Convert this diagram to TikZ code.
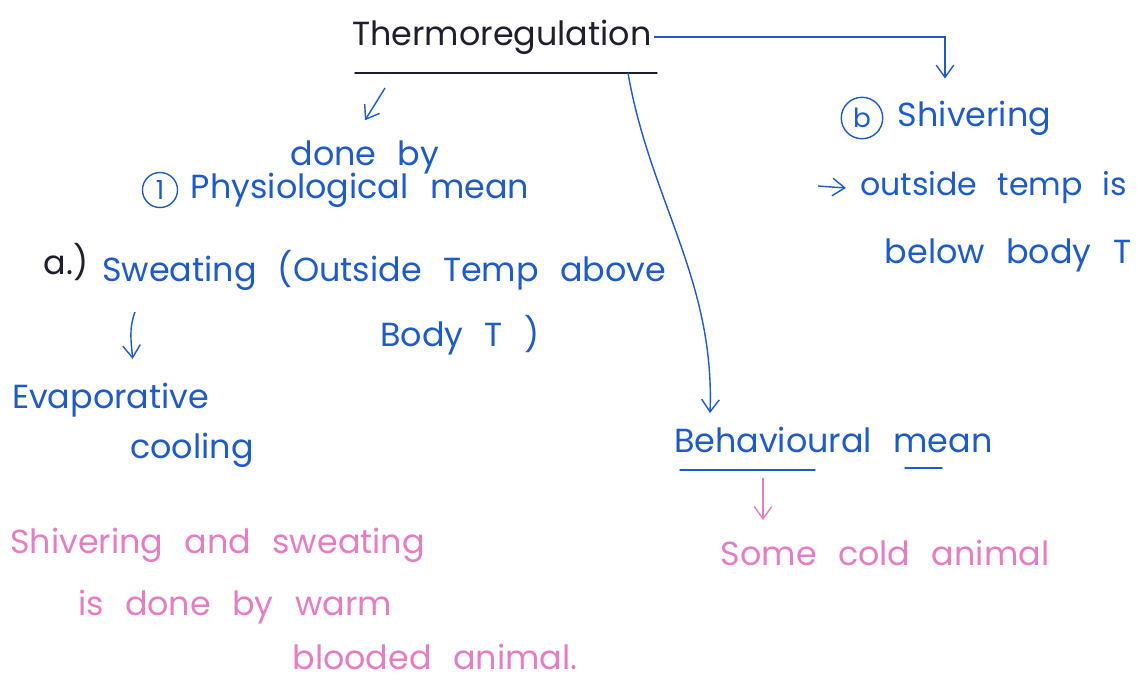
\documentclass[tikz,border=0pt]{standalone}
\usepackage{fontspec}
\setmainfont{Poppins}[WordSpace=2.4]
\usetikzlibrary{arrows.meta,calc,positioning}
\definecolor{ink}{RGB}{30,90,200}
\definecolor{rose}{RGB}{228,125,195}
\definecolor{pencil}{RGB}{30,30,45}
\tikzset{>={Straight Barb[length=7pt,width=10pt]},every node/.style={font=\fontsize{19}{23}\selectfont,inner sep=1pt},
  note/.style={text=ink},pinknote/.style={text=rose},flow/.style={ink,thick,->},pinkflow/.style={rose,thick,->},bar/.style={thick,line cap=round},
  num/.style={note,circle,draw=ink,thick,inner sep=3pt,font=\fontsize{15}{17}\selectfont}}

\begin{document}
\begin{tikzpicture}[x=0.02cm,y=-0.02cm]
\useasboundingbox (0,0) rectangle (1137,681);
\node[text=pencil] (title) at (502,37){Thermoregulation};
\draw[bar,pencil] (355,73)--(657,73);
\node[note] (doneby) at (365,157){done by};
\node[num] (n1) at (160,190){1};
\node[note,right=6pt of n1] (phys){Physiological mean};
\node[text=pencil] (na) at (66,262){a.)};
\node[note,anchor=west] (sweat) at (100,270){Sweating (Outside Temp above};
\node[note] (body) at (460,335){Body T )};
\node[note,anchor=west] (evap) at (10,400){Evaporative};
\node[note] (cool) at (192,450){cooling};
\node[pinknote,anchor=west] (pa) at (8,545){Shivering and sweating};
\node[pinknote] (pb) at (235,607){is done by warm};
\node[pinknote] (pc) at (435,657){blooded animal.};
\node[note,anchor=west] (behav) at (672,440){Behavioural mean};
\draw[bar,ink] (680,470)--(815,470);\draw[bar,ink] (905,468)--(942,468);
\node[pinknote] (some) at (885,553){Some cold animal};
\node[num] (n2) at (862,118){b};
\node[note,right=7pt of n2] (shiv){Shivering};
\node[note,anchor=west,font=\fontsize{18}{22}\selectfont] (outs) at (858,188){outside temp is};
\node[note] (below) at (1008,255){below body T};
% connectors
\coordinate (u1) at (385,88);\coordinate (u2) at (628,73);\coordinate (ev) at (135,312);
\draw[flow] (title.east) -| ($(n2.north)+(83,-18)$);
\draw[flow] (u1) -- ($(doneby.north)+(0,-18)$);
\draw[flow] (u2) .. controls (650,200) and (715,280) .. ($(behav.north west)+(38,-12)$);
\draw[flow] (ev) to[out=250,in=95] ($(evap.north)+(22,-22)$);
\draw[flow] ($(outs.west)+(-40,-2)$) -- ($(outs.west)+(-12,0)$);
\draw[pinkflow] (763,478) -- ($(some.north)+(-122,-18)$);
\end{tikzpicture}
\end{document}
